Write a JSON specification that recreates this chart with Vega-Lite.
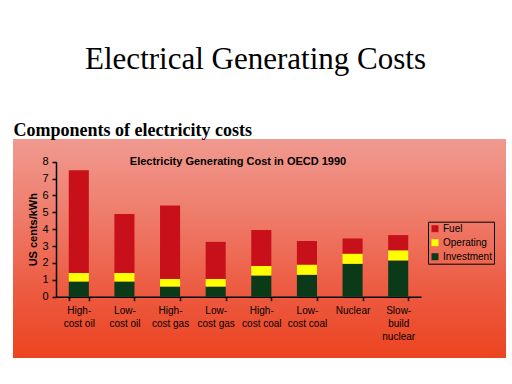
{
  "$schema": "https://vega.github.io/schema/vega-lite/v6.json",
  "width": 493,
  "height": 219,
  "autosize": {"type": "none"},
  "padding": {"left": 13, "top": 139, "right": 6, "bottom": 26},
  "background": "#ffffff",
  "config": {
    "view": {
      "stroke": null,
      "fill": {
        "gradient": "linear", "x1": 0, "y1": 0, "x2": 0, "y2": 1,
        "stops": [
          {"offset": 0, "color": "#f09a90"},
          {"offset": 0.3, "color": "#ef8070"},
          {"offset": 0.7, "color": "#ec5a40"},
          {"offset": 1, "color": "#ec4420"}
        ]
      }
    },
    "axis": {"grid": false, "domainColor": "#000000", "tickColor": "#000000", "labelColor": "#000000", "titleColor": "#000000"}
  },
  "data": {
    "values": [
      {"plant": "High-cost oil", "component": "Investment", "rank": 1, "cost": 0.9},
      {"plant": "High-cost oil", "component": "Operating", "rank": 2, "cost": 0.5},
      {"plant": "High-cost oil", "component": "Fuel", "rank": 3, "cost": 6.1},
      {"plant": "Low-cost oil", "component": "Investment", "rank": 1, "cost": 0.9},
      {"plant": "Low-cost oil", "component": "Operating", "rank": 2, "cost": 0.5},
      {"plant": "Low-cost oil", "component": "Fuel", "rank": 3, "cost": 3.5},
      {"plant": "High-cost gas", "component": "Investment", "rank": 1, "cost": 0.6},
      {"plant": "High-cost gas", "component": "Operating", "rank": 2, "cost": 0.45},
      {"plant": "High-cost gas", "component": "Fuel", "rank": 3, "cost": 4.35},
      {"plant": "Low-cost gas", "component": "Investment", "rank": 1, "cost": 0.6},
      {"plant": "Low-cost gas", "component": "Operating", "rank": 2, "cost": 0.45},
      {"plant": "Low-cost gas", "component": "Fuel", "rank": 3, "cost": 2.2},
      {"plant": "High-cost coal", "component": "Investment", "rank": 1, "cost": 1.25},
      {"plant": "High-cost coal", "component": "Operating", "rank": 2, "cost": 0.57},
      {"plant": "High-cost coal", "component": "Fuel", "rank": 3, "cost": 2.13},
      {"plant": "Low-cost coal", "component": "Investment", "rank": 1, "cost": 1.3},
      {"plant": "Low-cost coal", "component": "Operating", "rank": 2, "cost": 0.6},
      {"plant": "Low-cost coal", "component": "Fuel", "rank": 3, "cost": 1.4},
      {"plant": "Nuclear", "component": "Investment", "rank": 1, "cost": 1.95},
      {"plant": "Nuclear", "component": "Operating", "rank": 2, "cost": 0.6},
      {"plant": "Nuclear", "component": "Fuel", "rank": 3, "cost": 0.9},
      {"plant": "Slow-build nuclear", "component": "Investment", "rank": 1, "cost": 2.15},
      {"plant": "Slow-build nuclear", "component": "Operating", "rank": 2, "cost": 0.6},
      {"plant": "Slow-build nuclear", "component": "Fuel", "rank": 3, "cost": 0.9}
    ]
  },
  "resolve": {"axis": {"x": "independent", "y": "independent"}},
  "layer": [
    {
      "mark": {"type": "bar"},
      "encoding": {
        "x": {
          "field": "plant", "type": "nominal", "sort": null,
          "scale": {"range": [43, 408], "paddingInner": 0.56, "paddingOuter": 0.28},
          "axis": {
            "orient": "bottom", "offset": -61.3, "tickBand": "extent",
            "tickSize": 4, "tickWidth": 1.5, "domainWidth": 1.5,
            "labelAngle": 0, "labelFont": "Liberation Sans", "labelFontSize": 10,
            "labelLineHeight": 12.7, "labelPadding": 5, "labelBaseline": "top",
            "labelExpr": "!datum.label ? '' : datum.label == 'Slow-build nuclear' ? ['Slow-', 'build', 'nuclear'] : datum.label == 'Nuclear' ? ['Nuclear'] : [split(datum.label, '-')[0] + '-', split(datum.label, '-')[1]]",
            "title": "Components of electricity costs",
            "titleFont": "Liberation Serif", "titleFontSize": 18, "titleFontWeight": "bold",
            "titleAngle": 0, "titleX": 0, "titleY": -161.7,
            "titleAlign": "left", "titleBaseline": "alphabetic", "titleAnchor": null
          }
        },
        "y": {
          "field": "cost", "type": "quantitative", "stack": "zero",
          "scale": {"domain": [0, 8], "range": [157.7, 22.7], "nice": false, "zero": false},
          "axis": {
            "orient": "left", "offset": -43, "values": [0, 1, 2, 3, 4, 5, 6, 7, 8],
            "tickSize": 4, "tickWidth": 1.5, "domainWidth": 1.5,
            "labelFont": "Liberation Sans", "labelFontSize": 11, "labelPadding": 4,
            "title": "US cents/kWh",
            "titleFont": "Liberation Sans", "titleFontSize": 11, "titleFontWeight": "bold",
            "titleX": -23, "titleY": 90.2, "titleAlign": "center", "titleBaseline": "middle"
          }
        },
        "color": {
          "field": "component", "type": "nominal",
          "scale": {"domain": ["Fuel", "Operating", "Investment"], "range": ["#c8101a", "#ffff00", "#0b3a18"]},
          "legend": {
            "title": null, "orient": "none", "legendX": 415, "legendY": 82.7,
            "symbolType": "square", "symbolSize": 49, "symbolStrokeWidth": 0,
            "labelFont": "Liberation Sans", "labelFontSize": 10, "labelColor": "#000000",
            "labelOffset": 3, "rowPadding": 4,
            "strokeColor": "#000000", "padding": 2
          }
        },
        "order": {"field": "rank", "type": "quantitative"}
      }
    },
    {
      "mark": {"type": "bar", "opacity": 0},
      "encoding": {
        "x": {
          "field": "plant", "type": "nominal", "sort": null,
          "axis": {
            "orient": "top", "labels": false, "ticks": false, "domain": false,
            "title": "Electrical Generating Costs",
            "titleFont": "Liberation Serif", "titleFontSize": 31, "titleFontWeight": "normal",
            "titleAngle": 0, "titleX": 242, "titleY": -71,
            "titleAlign": "center", "titleBaseline": "alphabetic"
          }
        },
        "y": {
          "field": "cost", "type": "quantitative", "stack": "zero",
          "axis": {
            "orient": "right", "labels": false, "ticks": false, "domain": false,
            "title": "Electricity Generating Cost in OECD 1990",
            "titleFont": "Liberation Sans", "titleFontSize": 11, "titleFontWeight": "bold",
            "titleAngle": 0, "titleX": -268.5, "titleY": 22.7,
            "titleAlign": "center", "titleBaseline": "middle"
          }
        },
        "order": {"field": "rank", "type": "quantitative"}
      }
    }
  ]
}
